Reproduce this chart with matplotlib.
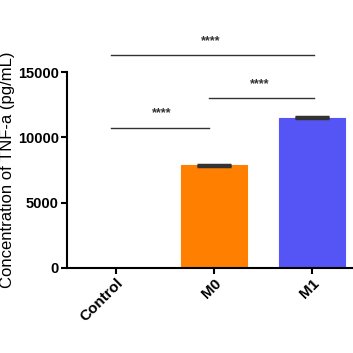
import matplotlib
matplotlib.use('Agg')
import matplotlib.pyplot as plt
import matplotlib.transforms as mtransforms
import numpy as np

# data
groups = ['Control', 'M0', 'M1']
means = [0, 7850, 11500]
errors = [0, 60, 30]
colors = ['#FFFFFF', '#FF8000', '#5555F5']

# significance brackets: (left group, right group, bar height, label)
brackets = [
    (0, 1, 10750, '****'),
    (1, 2, 13000, '****'),
    (0, 2, 16300, '****'),
]

plt.rcParams['font.family'] = ['Liberation Sans', 'DejaVu Sans']

fig = plt.figure(figsize=(3.53, 3.53), dpi=100)
ax = fig.add_axes([0.19, 0.2416, 0.81, 0.554])

x = np.arange(len(groups))
ax.bar(x, means, width=0.68, color=colors, edgecolor=colors, linewidth=0.8, zorder=2)
ax.errorbar(x[1:], means[1:], yerr=errors[1:], fmt='none', ecolor='#333333',
            elinewidth=1.5, capsize=12, capthick=2.5, zorder=3)

for a, b, h, label in brackets:
    ax.plot([a - 0.05, b - 0.05 if b == 1 else b + 0.02], [h, h], color='#333333',
            linewidth=1, clip_on=False)
    ax.text((a + b) / 2 - 0.03, h + 650, label, ha='center', va='bottom',
            fontsize=9, fontweight='bold', color='#333333', clip_on=False)

ax.set_xlim(-0.5, 2.42)
ax.set_ylim(0, 15000)
ax.set_yticks([0, 5000, 10000, 15000])
ax.set_yticklabels(['0', '5000', '10000', '15000'], fontweight='bold', fontsize=10.5)
ax.set_xticks(x)
ax.set_xticklabels(groups, rotation=45, ha='right', va='top', rotation_mode='anchor',
                   fontweight='bold', fontsize=11)
shift = mtransforms.ScaledTranslation(-4 / 100, 0, fig.dpi_scale_trans)
for lbl in ax.get_xticklabels():
    lbl.set_transform(lbl.get_transform() + shift)
ax.set_ylabel('Concentration of TNF-a (pg/mL)', fontsize=12, labelpad=2)

for side in ['top', 'right']:
    ax.spines[side].set_visible(False)
ax.spines['left'].set_linewidth(1.5)
ax.spines['bottom'].set_linewidth(1.5)
ax.tick_params(axis='both', direction='out', length=4, width=1.5, pad=2)

fig.savefig('out.png', dpi=100)
